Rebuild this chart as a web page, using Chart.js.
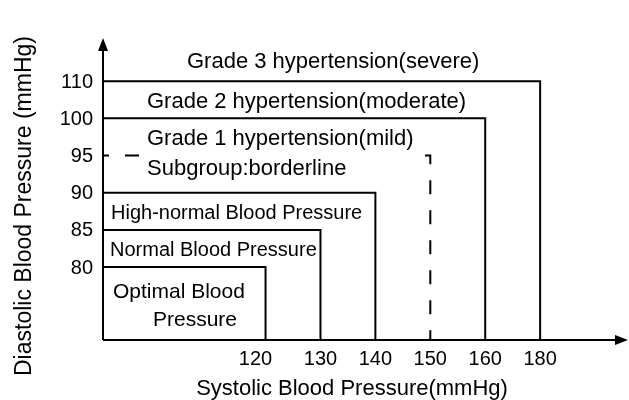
<!DOCTYPE html>
<html>
<head>
<meta charset="utf-8">
<title>Blood pressure classification</title>
<script src="https://cdn.jsdelivr.net/npm/chart.js@4.4.1/dist/chart.umd.min.js"></script>
<style>
  html, body { margin: 0; padding: 0; background: #fff; }
  #wrap { width: 629px; height: 400px; position: relative; }
</style>
</head>
<body>
<div id="wrap"><canvas id="bp-chart"></canvas></div>
<script>
// thresholds, one per zone (zones are nested: each one starts at the axes)
const systolicLimits = [120, 130, 140, 150, 160, 180];
const diastolicLimits = [80, 85, 90, 95, 100, 110];
const zoneNames = [
  ['Optimal Blood', 'Pressure'],
  ['Normal Blood Pressure'],
  ['High-normal Blood Pressure'],
  ['Grade 1 hypertension(mild)', 'Subgroup:borderline'],
  ['Grade 2 hypertension(moderate)'],
  ['Grade 3 hypertension(severe)']
];
const dashedZone = 3; // borderline subgroup drawn dashed
const xTitle = 'Systolic Blood Pressure(mmHg)';
const yTitle = 'Diastolic Blood Pressure (mmHg)';

// the picture is schematic: thresholds sit at evenly spaced ranks, not at true values
const X_MIN = -1.96, X_MAX = 7.6;
const Y_MIN = -0.96, Y_MAX = 7.16;
const FONT = '"Liberation Sans", Arial, Helvetica, sans-serif';

const datasets = systolicLimits.map((s, i) => {
  const r = i + 1;
  return {
    label: zoneNames[i].join(' '),
    data: [{ x: X_MIN, y: r }, { x: r, y: r }, { x: r, y: Y_MIN }],
    borderColor: '#000',
    borderWidth: 2,
    borderDash: i === dashedZone ? [14, 16] : [],
    borderDashOffset: i === dashedZone ? 8 : 0,
    pointRadius: 0,
    fill: false,
    tension: 0,
    clip: false
  };
});

const decorations = {
  id: 'decorations',
  afterDatasetsDraw(chart) {
    const { ctx, chartArea: a, scales } = chart;
    const xp = (v) => scales.x.getPixelForValue(v);
    const yp = (v) => scales.y.getPixelForValue(v);
    ctx.save();

    // white patch behind the grade 1 text hides the middle of the dashed line
    ctx.fillStyle = '#fff';
    ctx.fillRect(a.left + 41, yp(4) - 28, 280, 55);

    // axes with arrow heads
    ctx.strokeStyle = '#000';
    ctx.fillStyle = '#000';
    ctx.lineWidth = 2;
    ctx.beginPath();
    ctx.moveTo(a.left, a.bottom);
    ctx.lineTo(a.right - 10, a.bottom);
    ctx.moveTo(a.left, a.bottom);
    ctx.lineTo(a.left, a.top + 10);
    ctx.stroke();
    ctx.beginPath();
    ctx.moveTo(a.right, a.bottom);
    ctx.lineTo(a.right - 13, a.bottom - 5);
    ctx.lineTo(a.right - 13, a.bottom + 5);
    ctx.closePath();
    ctx.fill();
    ctx.beginPath();
    ctx.moveTo(a.left, a.top);
    ctx.lineTo(a.left - 5, a.top + 13);
    ctx.lineTo(a.left + 5, a.top + 13);
    ctx.closePath();
    ctx.fill();

    // tick labels
    ctx.font = '20px ' + FONT;
    ctx.textAlign = 'center';
    ctx.textBaseline = 'alphabetic';
    systolicLimits.forEach((s, i) => ctx.fillText(String(s), xp(i + 1) - (i === 0 ? 10 : 0), a.bottom + 25));
    ctx.textAlign = 'right';
    ctx.textBaseline = 'middle';
    diastolicLimits.forEach((d, i) => ctx.fillText(String(d), a.left - 10, yp(i + 1) + 1));

    // axis titles
    ctx.font = '22px ' + FONT;
    ctx.textAlign = 'center';
    ctx.textBaseline = 'alphabetic';
    ctx.fillText(xTitle, 352, a.bottom + 55);
    ctx.save();
    ctx.font = '23px ' + FONT;
    ctx.translate(31, 206);
    ctx.rotate(-Math.PI / 2);
    ctx.fillText(yTitle, 0, 0);
    ctx.restore();

    // zone names
    ctx.textAlign = 'left';
    ctx.font = '21px ' + FONT;
    ctx.fillText(zoneNames[0][0], a.left + 10, yp(1) + 31);
    ctx.fillText(zoneNames[0][1], a.left + 50, yp(1) + 59);
    ctx.font = '20px ' + FONT;
    ctx.fillText(zoneNames[1][0], a.left + 7, yp(2) + 26);
    ctx.fillText(zoneNames[2][0], a.left + 8, yp(3) + 26);
    ctx.font = '22px ' + FONT;
    ctx.fillText(zoneNames[3][0], a.left + 44, yp(4) - 11);
    ctx.fillText(zoneNames[3][1], a.left + 44, yp(4) + 19);
    ctx.fillText(zoneNames[4][0], a.left + 44, yp(5) - 10);
    ctx.fillText(zoneNames[5][0], a.left + 84, yp(6) - 13);
    ctx.restore();
  }
};

new Chart(document.getElementById('bp-chart'), {
  type: 'line',
  data: { datasets },
  options: {
    responsive: true,
    maintainAspectRatio: false,
    animation: false,
    layout: { padding: { left: 103, top: 38, right: 1, bottom: 60 } },
    plugins: { legend: { display: false }, tooltip: { enabled: false } },
    scales: {
      x: { type: 'linear', min: X_MIN, max: X_MAX, display: false },
      y: { type: 'linear', min: Y_MIN, max: Y_MAX, display: false }
    }
  },
  plugins: [decorations]
});
</script>
</body>
</html>
